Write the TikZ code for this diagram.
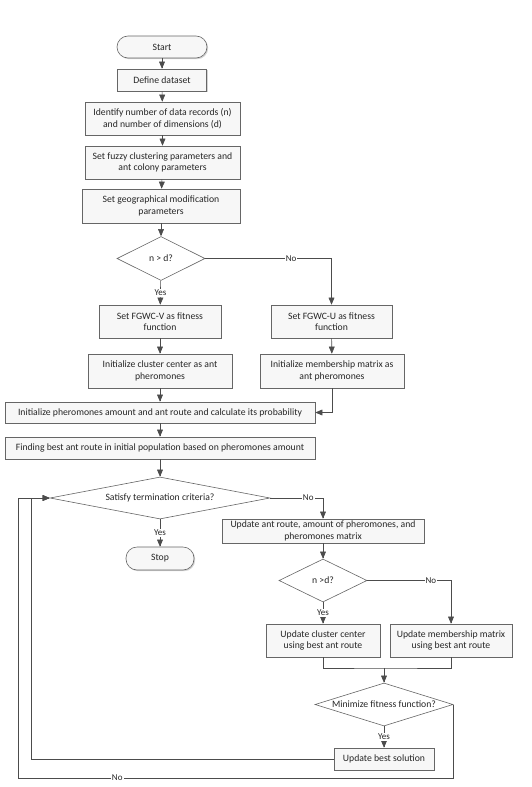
\documentclass[tikz,border=0pt]{standalone}
\usepackage{fontspec}
\setmainfont{Carlito}
\usetikzlibrary{arrows,shapes.geometric,shadows}

\begin{document}
\begin{tikzpicture}[x=1pt,y=-1pt,>=triangle 45,semithick,draw=black!70,
  font=\fontsize{9.7}{11.6}\selectfont]
  \tikzstyle{every node}=[align=center,text=black!85]
  \tikzstyle{proc}=[rectangle,draw=black!60,fill=gray!6,inner sep=1pt,
    drop shadow={shadow xshift=1.2pt,shadow yshift=-1.2pt,opacity=0.35}]
  \tikzstyle{term}=[proc,rounded corners=11pt]
  \tikzstyle{cond}=[diamond,draw=black!60,fill=white,inner sep=0pt]
  \tikzstyle{lbl}=[fill=white,inner sep=1pt,font=\fontsize{9}{10}\selectfont]
  \tikzstyle{line}=[draw=black!70]
  \useasboundingbox (0,0) rectangle (531,787);

  \node[term,minimum width=90pt,minimum height=22pt] (start) at (162,47) {Start};
  \node[proc,minimum width=89pt,minimum height=22pt] (define) at (162,80) {Define dataset};
  \node[proc,minimum width=155pt,minimum height=33pt] (ident) at (162.5,118.5) {Identify number of data records (n)\\and number of dimensions (d)};
  \node[proc,minimum width=155pt,minimum height=33pt] (fuzzy) at (162.5,162.5) {Set fuzzy clustering parameters and\\ant colony parameters};
  \node[proc,minimum width=158pt,minimum height=34pt] (geo) at (161,206) {Set geographical modification\\parameters};
  \node[cond,aspect=2,minimum width=88pt,minimum height=44pt] (nd) at (161,258.5) {n > d?};
  \node[proc,minimum width=122pt,minimum height=33pt] (fitv) at (160,321.5) {Set FGWC-V as fitness\\function};
  \node[proc,minimum width=121pt,minimum height=33pt] (fitu) at (331.5,321.5) {Set FGWC-U as fitness\\function};
  \node[proc,minimum width=144pt,minimum height=34pt] (initc) at (160,371) {Initialize cluster center as ant\\pheromones};
  \node[proc,minimum width=144pt,minimum height=34pt] (initm) at (332,371) {Initialize membership matrix as\\ant pheromones};
  \node[proc,minimum width=310pt,minimum height=21pt] (initp) at (160,412.5) {Initialize pheromones amount and ant route and calculate its probability};
  \node[proc,minimum width=310pt,minimum height=22pt] (find) at (160,448) {Finding best ant route in initial population based on pheromones amount};
  \node[cond,aspect=5.2,minimum width=220pt,minimum height=42pt] (sat) at (160,498) {Satisfy termination criteria?};
  \node[term,minimum width=68pt,minimum height=23pt] (stop) at (160,558.5) {Stop};
  \node[proc,minimum width=202pt,minimum height=24pt,inner ysep=0pt] (upd) at (323,531) {Update ant route, amount of pheromones, and\\pheromones matrix};
  \node[cond,aspect=2,minimum width=88pt,minimum height=43pt] (nd2) at (323,580.5) {n >d?};
  \node[proc,minimum width=114pt,minimum height=33pt] (updc) at (323,640.5) {Update cluster center\\using best ant route};
  \node[proc,minimum width=122pt,minimum height=33pt] (updm) at (451,640.5) {Update membership matrix\\using best ant route};
  \node[cond,aspect=3.2,minimum width=138pt,minimum height=43pt] (mini) at (384,704.5) {Minimize fitness function?};
  \node[proc,minimum width=100pt,minimum height=22pt] (best) at (384,759) {Update best solution};

  \coordinate (join) at (384,668);
  \coordinate (loopin) at (31,498);
  \coordinate (loopout) at (18,778);

  \path[->,line] (start) edge (define)
    (define) edge (ident)
    (ident) edge (fuzzy)
    (fuzzy) edge (geo)
    (geo) edge (nd)
    (fitv) edge (initc)
    (fitu) edge (initm)
    (initc) edge (initp)
    (initp) edge (find)
    (find) edge (sat)
    (upd) edge (nd2);
  \draw[->,line] (nd) -- node[lbl]{Yes} (fitv);
  \draw[->,line] (nd.east) -| node[lbl,pos=0.34]{No} (fitu.north);
  \draw[->,line] (initm.south) |- (initp.east);
  \draw[->,line] (sat) -- node[lbl]{Yes} (stop);
  \draw[->,line] (sat.east) -| node[lbl,pos=0.36]{No} (upd.north);
  \draw[->,line] (nd2) -- node[lbl]{Yes} (updc);
  \draw[->,line] (nd2.east) -| node[lbl,pos=0.38]{No} (updm.north);
  \draw[line] (updc.south) |- (join) -| (updm.south);
  \draw[->,line] (join) -- (mini);
  \draw[->,line] (mini) -- node[lbl]{Yes} (best);
  \draw[->,line] (best.west) -| (loopin) -- (sat.west);
  \draw[->,line] (mini.east) |- node[lbl,pos=0.886]{No} (loopout) |- (sat.west);
\end{tikzpicture}
\end{document}
